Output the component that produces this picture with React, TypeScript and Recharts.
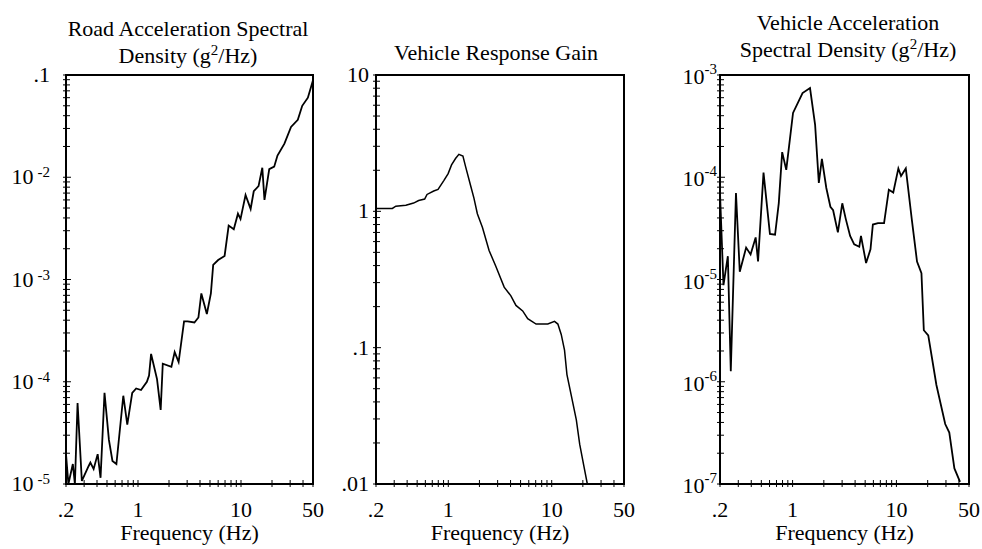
import React from "react";
import { LineChart, Line, XAxis, YAxis, ReferenceArea } from "recharts";

const SERIF = '"Liberation Serif", "Times New Roman", serif';
const TXT: React.CSSProperties = { fontFamily: SERIF, fontSize: 22, fill: "#000" };

// frequency axis (shared by all three panels)
const FREQ_MAJOR = [0.2, 1, 10, 50];
const FREQ_LABELS = [".2", "1", "10", "50"];
const FREQ_MINOR = [0.3, 0.4, 0.5, 0.6, 0.7, 0.8, 0.9, 2, 3, 4, 5, 6, 7, 8, 9, 20, 30, 40];

// road acceleration PSD (g^2/Hz)
const roadFreq = [0.2, 0.211, 0.233, 0.244, 0.259, 0.285, 0.332, 0.345, 0.371, 0.406, 0.433, 0.473, 0.522, 0.565, 0.617, 0.72, 0.787, 0.879, 0.96, 1.07, 1.22, 1.28, 1.34, 1.53, 1.66, 1.74, 2.11, 2.27, 2.48, 2.8, 3.03, 3.53, 3.86, 4.12, 4.66, 5.1, 5.37, 6.0, 6.93, 7.59, 8.51, 9.34, 9.89, 11.07, 12.4, 13.3, 14.8, 16.1, 16.9, 18.8, 21.0, 22.6, 26.4, 30.6, 35.6, 39.3, 44.6, 50];
const roadPsd = [1.96e-5, 1e-5, 1.57e-5, 1e-5, 6.2e-5, 1.07e-5, 1.5e-5, 1.62e-5, 1.4e-5, 1.96e-5, 1.15e-5, 7.8e-5, 2.7e-5, 1.68e-5, 1.57e-5, 7.3e-5, 3.8e-5, 7.8e-5, 8.6e-5, 8.3e-5, 1.0e-4, 1.15e-4, 1.87e-4, 1.06e-4, 5.3e-5, 1.5e-4, 1.4e-4, 1.95e-4, 1.56e-4, 3.9e-4, 3.9e-4, 3.8e-4, 4.25e-4, 7.3e-4, 4.6e-4, 7.3e-4, 1.39e-3, 1.55e-3, 1.7e-3, 3.37e-3, 3.1e-3, 4.4e-3, 3.9e-3, 6.7e-3, 4.9e-3, 7.3e-3, 8.2e-3, 1.24e-2, 6.0e-3, 1.2e-2, 1.27e-2, 1.63e-2, 2.13e-2, 3.1e-2, 3.65e-2, 5.0e-2, 6.0e-2, 8.9e-2];
const roadTicks = [1e-5, 1e-4, 1e-3, 1e-2, 0.1];
const roadLabels = ["10^-5", "10^-4", "10^-3", "10^-2", ".1"];

// vehicle response gain
const gainFreq = [0.2, 0.288, 0.311, 0.389, 0.462, 0.517, 0.591, 0.623, 0.723, 0.796, 0.905, 0.997, 1.075, 1.175, 1.266, 1.385, 1.47, 1.645, 1.77, 1.91, 2.14, 2.48, 2.88, 3.47, 4.03, 4.51, 5.24, 5.86, 7.06, 9.17, 10.65, 11.47, 12.36, 13.3, 14.04, 15.47, 17.3, 18.66, 20.4, 22.1];
const gainValue = [1.05, 1.05, 1.09, 1.11, 1.15, 1.2, 1.23, 1.33, 1.41, 1.45, 1.68, 1.89, 2.19, 2.44, 2.62, 2.54, 2.13, 1.54, 1.25, 0.96, 0.76, 0.516, 0.396, 0.278, 0.24, 0.204, 0.186, 0.163, 0.149, 0.149, 0.156, 0.149, 0.125, 0.096, 0.0635, 0.0445, 0.0295, 0.0195, 0.0137, 0.01];
const gainTicks = [0.01, 0.1, 1, 10];
const gainLabels = [".01", ".1", "1", "10"];

// vehicle acceleration PSD (g^2/Hz)
const vehFreq = [0.2, 0.216, 0.238, 0.254, 0.285, 0.31, 0.357, 0.394, 0.441, 0.465, 0.525, 0.605, 0.678, 0.736, 0.794, 0.869, 1.01, 1.247, 1.472, 1.648, 1.79, 1.916, 2.113, 2.313, 2.457, 2.73, 3.01, 3.247, 3.582, 3.921, 4.389, 4.557, 5.102, 5.627, 5.932, 6.642, 7.604, 8.453, 9.323, 10.44, 11.08, 12.31, 14.1, 15.79, 17.42, 18.36, 20.26, 24.27, 29.5, 32.3, 36.17, 41];
const vehPsd = [7.0e-5, 8.8e-6, 1.69e-5, 1.27e-6, 7.0e-5, 1.19e-5, 2.05e-5, 1.76e-5, 2.58e-5, 1.5e-5, 1.11e-4, 2.79e-5, 2.74e-5, 5.56e-5, 1.76e-4, 1.18e-4, 4.26e-4, 6.65e-4, 7.46e-4, 3.26e-4, 8.8e-5, 1.51e-4, 7.85e-5, 5.14e-5, 4.76e-5, 2.89e-5, 5.56e-5, 3.94e-5, 2.67e-5, 2.21e-5, 2.09e-5, 2.67e-5, 1.45e-5, 1.97e-5, 3.45e-5, 3.56e-5, 3.56e-5, 7.55e-5, 7.1e-5, 1.22e-4, 1.03e-4, 1.22e-4, 3.78e-5, 1.5e-5, 1.15e-5, 3.19e-6, 2.84e-6, 9.3e-7, 3.86e-7, 3.18e-7, 1.42e-7, 1.05e-7];
const vehTicks = [1e-7, 1e-6, 1e-5, 1e-4, 1e-3];
const vehLabels = ["10^-7", "10^-6", "10^-5", "10^-4", "10^-3"];

const zip = (xs: number[], ys: number[]) => xs.map((f, i) => ({ f, v: ys[i] }));

// 2..9 x each decade between the major ticks
const minorTicks = (majors: number[]) => {
  const out: number[] = [];
  for (let i = 0; i < majors.length - 1; i++) {
    for (let k = 2; k <= 9; k++) out.push(majors[i] * k);
  }
  return out;
};

const same = (a: number, b: number) => Math.abs(Math.log10(a) - Math.log10(b)) < 1e-6;

const FreqTick = (props: any) => {
  const { x, y, payload } = props;
  const idx = FREQ_MAJOR.findIndex((m) => same(m, payload.value));
  return (
    <g>
      <line x1={x} x2={x} y1={y - 4} y2={y + 3} stroke="#000" strokeWidth={1} />
      {idx >= 0 && (
        <text x={x} y={y + 33} textAnchor="middle" style={TXT}>
          {FREQ_LABELS[idx]}
        </text>
      )}
    </g>
  );
};

type YCfg = { gap: number; expDx: number; expDy: number; baseDy: number };

const makeYTick = (majors: number[], labels: string[], cfg: YCfg) => (props: any) => {
  const { x, y, payload } = props;
  const idx = majors.findIndex((m) => same(m, payload.value));
  let label: React.ReactNode = null;
  if (idx >= 0) {
    const [base, exp] = labels[idx].split("^");
    label = (
      <text x={x - cfg.gap} y={y + cfg.baseDy} textAnchor="end" style={TXT}>
        <tspan>{base}</tspan>
        {exp && (
          <tspan dx={cfg.expDx} dy={cfg.expDy} style={{ fontSize: 15 }}>
            {exp}
          </tspan>
        )}
      </text>
    );
  }
  const len = idx >= 0 ? 5 : 4;
  return (
    <g>
      <line x1={x - 3} x2={x + len} y1={y} y2={y} stroke="#000" strokeWidth={1} />
      {label}
    </g>
  );
};

type PanelProps = {
  left: number;
  right: number;
  data: { f: number; v: number }[];
  majors: number[];
  labels: string[];
  cfg: YCfg;
  strokeWidth: number;
};

const Y_AXIS_W = 70;

const Panel = ({ left, right, data, majors, labels, cfg, strokeWidth }: PanelProps) => {
  const plotW = right - left;
  const rightMargin = Math.min(16, 982 - right);
  const yDomain = [majors[0], majors[majors.length - 1]];
  const yTicks = [...majors, ...minorTicks(majors)].sort((a, b) => a - b);
  const fTicks = [...FREQ_MAJOR, ...FREQ_MINOR].sort((a, b) => a - b);
  return (
    <div style={{ position: "absolute", left: left - Y_AXIS_W, top: 0 }}>
      <LineChart
        width={Y_AXIS_W + plotW + rightMargin}
        height={549}
        data={data}
        margin={{ top: 75, right: rightMargin, bottom: 5, left: 0 }}
      >
        <XAxis
          dataKey="f"
          type="number"
          scale="log"
          domain={[0.2, 50]}
          allowDataOverflow
          ticks={fTicks}
          interval={0}
          tick={FreqTick}
          tickSize={0}
          tickMargin={0}
          tickLine={false}
          axisLine={false}
          height={60}
          label={{ value: "Frequency (Hz)", position: "insideBottom", offset: 4, style: TXT }}
        />
        <YAxis
          dataKey="v"
          type="number"
          scale="log"
          domain={yDomain}
          allowDataOverflow
          ticks={yTicks}
          interval={0}
          tick={makeYTick(majors, labels, cfg)}
          tickSize={0}
          tickMargin={0}
          tickLine={false}
          axisLine={false}
          width={Y_AXIS_W}
        />
        <Line
          dataKey="v"
          type="linear"
          stroke="#000"
          strokeWidth={strokeWidth}
          dot={false}
          isAnimationActive={false}
        />
        <ReferenceArea
          x1={0.2}
          x2={50}
          y1={yDomain[0]}
          y2={yDomain[1]}
          fill="none"
          stroke="#000"
          strokeWidth={2}
          ifOverflow="visible"
        />
      </LineChart>
    </div>
  );
};

const titleStyle = (center: number, top: number): React.CSSProperties => ({
  position: "absolute",
  left: center - 200,
  width: 400,
  top,
  textAlign: "center",
  fontSize: 22,
  lineHeight: "27px",
  fontFamily: SERIF,
  color: "#000",
});

const Sup = ({ children }: { children: React.ReactNode }) => (
  <sup style={{ fontSize: 15, lineHeight: 0 }}>{children}</sup>
);

export default function App() {
  return (
    <div
      style={{
        position: "absolute",
        left: 0,
        top: 0,
        width: 982,
        height: 549,
        background: "#fff",
        overflow: "hidden",
        fontFamily: SERIF,
      }}
    >
      <div style={titleStyle(188, 15)}>
        Road Acceleration Spectral
        <br />
        Density (g<Sup>2</Sup>/Hz)
      </div>
      <div style={titleStyle(496, 39)}>Vehicle Response Gain</div>
      <div style={titleStyle(848, 9)}>
        Vehicle Acceleration
        <br />
        Spectral Density (g<Sup>2</Sup>/Hz)
      </div>

      <Panel
        left={66}
        right={313}
        data={zip(roadFreq, roadPsd)}
        majors={roadTicks}
        labels={roadLabels}
        cfg={{ gap: 16, expDx: 4, expDy: -7, baseDy: 7 }}
        strokeWidth={1.8}
      />
      <Panel
        left={376}
        right={624}
        data={zip(gainFreq, gainValue)}
        majors={gainTicks}
        labels={gainLabels}
        cfg={{ gap: 7, expDx: 0, expDy: 0, baseDy: 7 }}
        strokeWidth={1.5}
      />
      <Panel
        left={720}
        right={969}
        data={zip(vehFreq, vehPsd)}
        majors={vehTicks}
        labels={vehLabels}
        cfg={{ gap: 3, expDx: 0, expDy: -10, baseDy: 9 }}
        strokeWidth={1.8}
      />
    </div>
  );
}
